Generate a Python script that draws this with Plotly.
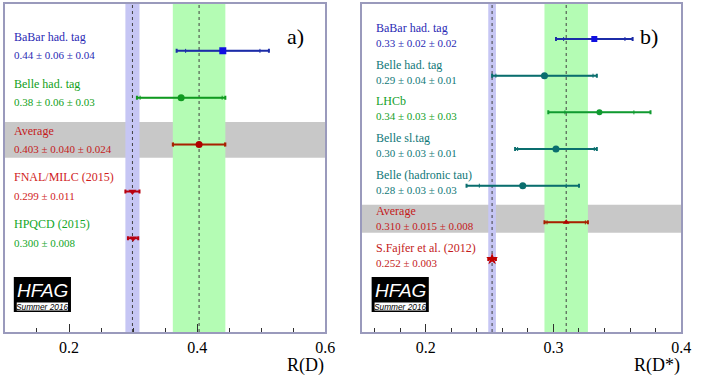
import plotly.graph_objects as go

W, H = 703, 378

# ---------------- data : R(D) ----------------
rd_labels = ["BaBar had. tag", "Belle had. tag", "Average", "FNAL/MILC (2015)", "HPQCD (2015)"]
rd_vals = [0.440, 0.375, 0.403, 0.299, 0.300]
rd_stat = [0.058, 0.064, 0.040, 0.011, 0.008]
rd_syst = [0.042, 0.026, 0.024, None, None]
rd_tot = [0.072, 0.069, 0.041, 0.011, 0.008]
rd_dec = [2, 2, 3, 3, 3]
rd_text_col = ["#2a2ab4", "#10a020", "#c41a1a", "#d01c1c", "#12a628"]
rd_mark_col = ["#1010e0", "#109a20", "#b00000", "#b80010", "#b80010"]
rd_line_col = ["#1c2ca8", "#109a20", "#a82000", "#b80010", "#b80010"]
rd_symbol = ["square", "circle", "circle", "triangle-down", "triangle-down"]
rd_avg_index = 2
rd_sm_index = 3

# ---------------- data : R(D*) ----------------
rds_labels = ["BaBar had. tag", "Belle had. tag", "LHCb", "Belle sl.tag",
              "Belle (hadronic tau)", "Average", "S.Fajfer et al. (2012)"]
rds_vals = [0.332, 0.293, 0.336, 0.302, 0.276, 0.310, 0.252]
rds_stat = [0.024, 0.038, 0.027, 0.030, 0.034, 0.015, 0.003]
rds_syst = [0.018, 0.015, 0.030, 0.011, 0.029, 0.008, None]
rds_tot = [0.030, 0.041, 0.040, 0.032, 0.044, 0.017, 0.003]
rds_dec = [2, 2, 2, 2, 2, 3, 3]
rds_text_col = ["#2a2ab4", "#107878", "#12a028", "#107878", "#107878", "#c41a1a", "#c41a1a"]
rds_mark_col = ["#1010e0", "#0a6e6e", "#109a30", "#0a6e6e", "#0a6e6e", "#b00000", "#c00000"]
rds_line_col = ["#1c2ca8", "#0a6e6e", "#109a30", "#0a6e6e", "#0a6e6e", "#a82000", "#c00000"]
rds_symbol = ["square", "circle", "circle", "circle", "circle", "triangle-up", "star"]
rds_avg_index = 5
rds_sm_index = 6

SERIF = "Liberation Serif, Times New Roman, serif"
SANS = "Liberation Sans, Arial, sans-serif"


def px(x):
    return x / W


def py(y):
    return 1 - y / H


def fmt(v, s, sy, d):
    t = f"{v:.{d}f} \u00b1 {s:.{d}f}"
    if sy is not None:
        t += f" \u00b1 {sy:.{d}f}"
    return t


fig = go.Figure()
shapes = []
annotations = []


def panel(xa, ya, labels, vals, stat, syst, tot, dec, tcol, mcol, lcol, sym,
          avg_i, sm_i, msize, text_x, lab_off, val_off):
    xr = "x" if xa == 1 else "x2"
    yr = "y" if ya == 1 else "y2"
    xd = xr + " domain"
    yd = yr + " domain"
    rows = list(range(1, len(vals) + 1))
    # grey average band
    shapes.append(dict(type="rect", xref=xd, yref=yr, x0=0, x1=1,
                       y0=rows[avg_i] - 0.48, y1=rows[avg_i] + 0.28,
                       fillcolor="#c8c8c8", line_width=0, layer="below"))
    # green average band
    shapes.append(dict(type="rect", xref=xr, yref=yd,
                       x0=vals[avg_i] - tot[avg_i], x1=vals[avg_i] + tot[avg_i],
                       y0=0, y1=1, fillcolor="#b4fcb4", line_width=0, layer="below"))
    # blue SM band
    shapes.append(dict(type="rect", xref=xr, yref=yd,
                       x0=vals[sm_i] - tot[sm_i], x1=vals[sm_i] + tot[sm_i],
                       y0=0, y1=1, fillcolor="#c6c6f4", line_width=0, layer="below"))
    for c in (vals[avg_i], vals[sm_i]):
        shapes.append(dict(type="line", xref=xr, yref=yd, x0=c, x1=c, y0=0, y1=1,
                           line=dict(color="#404040", width=1, dash="dot"), layer="below"))
    for i, r in enumerate(rows):
        # stat ticks
        if syst[i] is not None:
            fig.add_trace(go.Scatter(
                x=[vals[i]], y=[r], mode="markers", xaxis=xr, yaxis=yr,
                marker=dict(size=1, color="rgba(0,0,0,0)"),
                error_x=dict(type="data", array=[stat[i]], color=lcol[i],
                             thickness=1, width=2),
                showlegend=False, hoverinfo="skip"))
        fig.add_trace(go.Scatter(
            x=[vals[i]], y=[r], mode="markers", xaxis=xr, yaxis=yr,
            marker=dict(symbol=sym[i], size=msize[i], color=mcol[i]),
            error_x=dict(type="data", array=[tot[i]], color=lcol[i],
                         thickness=2, width=2),
            showlegend=False))
        annotations.append(dict(xref=xd, yref=yr, x=text_x, y=r + lab_off,
                                text=labels[i], showarrow=False, xanchor="left",
                                yanchor="middle",
                                font=dict(family=SERIF, size=12, color=tcol[i])))
        annotations.append(dict(xref=xd, yref=yr, x=text_x, y=r + val_off,
                                text=fmt(vals[i], stat[i], syst[i], dec[i]),
                                showarrow=False, xanchor="left", yanchor="middle",
                                font=dict(family=SERIF, size=11, color=tcol[i])))


panel(1, 1, rd_labels, rd_vals, rd_stat, rd_syst, rd_tot, rd_dec, rd_text_col,
      rd_mark_col, rd_line_col, rd_symbol, rd_avg_index, rd_sm_index,
      [7, 7, 7, 7, 7], 7 / 325, -0.3, 0.09)
panel(2, 2, rds_labels, rds_vals, rds_stat, rds_syst, rds_tot, rds_dec, rds_text_col,
      rds_mark_col, rds_line_col, rds_symbol, rds_avg_index, rds_sm_index,
      [6, 7, 6, 7, 7, 6, 9], 12 / 324, -0.3, 0.11)

# HFAG logos
for x0 in (14, 377):
    shapes.append(dict(type="rect", xref="paper", yref="paper",
                       x0=px(x0), x1=px(x0 + 58), y0=py(312), y1=py(277),
                       fillcolor="black", line_width=0))
    shapes.append(dict(type="rect", xref="paper", yref="paper",
                       x0=px(x0 + 3), x1=px(x0 + 55), y0=py(310.5), y1=py(302.5),
                       fillcolor="white", line_width=0))
    annotations.append(dict(xref="paper", yref="paper", x=px(x0 + 29), y=py(290.5),
                            text="HFAG", showarrow=False, xanchor="center", yanchor="middle",
                            font=dict(family=SANS, size=19, color="white", style="italic")))
    annotations.append(dict(xref="paper", yref="paper", x=px(x0 + 29), y=py(306.6),
                            text="Summer 2016", showarrow=False, xanchor="center",
                            yanchor="middle",
                            font=dict(family=SANS, size=8.3, color="black", style="italic")))

# panel labels and axis titles
annotations.append(dict(xref="paper", yref="paper", x=px(300), y=py(36), text="a)",
                        showarrow=False, xanchor="center", yanchor="middle",
                        font=dict(family=SERIF, size=22, color="black")))
annotations.append(dict(xref="paper", yref="paper", x=px(658), y=py(36), text="b)",
                        showarrow=False, xanchor="center", yanchor="middle",
                        font=dict(family=SERIF, size=22, color="black")))
annotations.append(dict(xref="paper", yref="paper", x=px(331), y=py(365), text="R(D)",
                        showarrow=False, xanchor="right", yanchor="middle",
                        font=dict(family=SERIF, size=18, color="black")))
annotations.append(dict(xref="paper", yref="paper", x=px(692), y=py(365), text="R(D*)",
                        showarrow=False, xanchor="right", yanchor="middle",
                        font=dict(family=SERIF, size=18, color="black")))

frame = "#9a9abc"
common_x = dict(showline=True, mirror=True, linecolor=frame, linewidth=1.5,
                ticks="inside", ticklen=8, tickcolor="#303030", showgrid=False,
                zeroline=False, tickfont=dict(family=SERIF, size=16, color="black"))
common_y = dict(showline=True, mirror=True, linecolor=frame, linewidth=1.5,
                showticklabels=False, ticks="", showgrid=False, zeroline=False)

fig.update_layout(
    width=W, height=H, margin=dict(l=0, r=0, t=0, b=0),
    paper_bgcolor="white", plot_bgcolor="white",
    xaxis=dict(domain=[px(5), px(330)], range=[0.1, 0.6], anchor="y",
               tick0=0.2, dtick=0.2,
               minor=dict(dtick=0.05, tick0=0.1, ticklen=4, ticks="inside",
                          tickcolor="#303030"),
               **common_x),
    yaxis=dict(domain=[py(332), py(4)], range=[7.0, 0.0], anchor="x", **common_y),
    xaxis2=dict(domain=[px(367), px(691)], range=[0.15, 0.4], anchor="y2",
                tick0=0.2, dtick=0.1,
                minor=dict(dtick=0.02, tick0=0.16, ticklen=4, ticks="inside",
                           tickcolor="#303030"),
                **common_x),
    yaxis2=dict(domain=[py(332), py(4)], range=[8.99, 0.045], anchor="x2", **common_y),
    shapes=shapes, annotations=annotations,
)

fig.write_html("out.html", config={"displayModeBar": False},
               post_script="document.body.style.margin='0';document.body.style.padding='0';"
                           "document.body.style.overflow='hidden';")
